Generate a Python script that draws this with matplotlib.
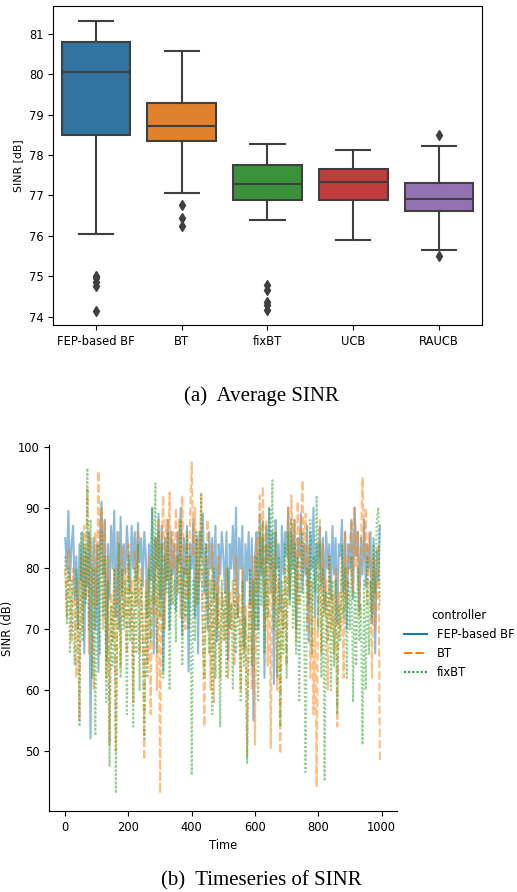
import matplotlib as mpl
mpl.use('Agg')
import matplotlib.pyplot as plt
from matplotlib.lines import Line2D
import numpy as np

mpl.rcParams['font.family'] = 'DejaVu Sans'

# ---- (a) box statistics ----
controllers = ['FEP-based BF', 'BT', 'fixBT', 'UCB', 'RAUCB']
box_colors = ['#3274a1', '#e1812c', '#3a923a', '#c03d3e', '#9372b2']
q1 = [78.50, 78.35, 76.88, 76.88, 76.61]
med = [80.05, 78.72, 77.28, 77.32, 76.92]
q3 = [80.80, 79.28, 77.76, 77.66, 77.30]
whis_lo = [76.05, 77.07, 76.39, 75.90, 75.64]
whis_hi = [81.33, 80.57, 78.28, 78.13, 78.23]
fliers = [
    [74.15, 74.75, 74.85, 74.95, 75.00],
    [76.25, 76.45, 76.75],
    [74.17, 74.29, 74.37, 74.66, 74.79],
    [],
    [75.49, 78.50],
]

# ---- (b) time series, values every 5 steps ----
time = list(range(0, 1000, 5))
sinr_fep = [
    85, 80, 89.5, 78, 84, 87, 75, 82, 70, 84,
    78, 86, 66, 83, 77, 86, 52, 80, 85, 70,
    84, 63, 86, 91, 79, 88, 65, 84, 75, 87,
    80, 89.5, 72, 86, 70, 88.5, 76, 84, 79, 87,
    82, 76, 87, 80, 86, 78, 87.5, 81, 85, 77,
    86, 82, 72, 84, 78, 90, 66, 85, 80, 89,
    75, 87, 63, 85, 78, 88, 70, 86, 79, 84,
    73, 86, 81, 90, 69, 85, 79, 87, 63, 84,
    80, 88, 72, 85, 66, 86, 82, 89, 76, 84,
    70, 86, 80, 85, 75, 87, 68, 84, 79, 86,
    82, 76, 86, 65, 84, 80, 87, 78, 90, 72,
    85, 80, 87, 67, 84, 78, 86, 74, 85, 55,
    82, 86, 70, 89, 79, 85, 62, 87, 81, 90,
    76, 86, 61, 88, 80, 84, 73, 87, 79, 86,
    82, 90, 75, 86, 80, 88, 70, 85, 82, 89,
    76, 84, 79, 87, 68, 86, 80, 90, 72, 84,
    81, 87, 77, 85, 73, 86, 80, 84, 75, 87,
    79, 85, 71, 84, 82, 88, 76, 86, 70, 84,
    80, 88, 75, 90, 82, 86, 73, 85, 79, 88,
    77, 84, 80, 86, 71, 85, 66, 83, 78, 87,
]
sinr_bt = [
    80, 72, 83, 76, 68, 80, 74, 62, 78, 55,
    82, 70, 87, 75, 93, 66, 85, 79, 60, 86,
    74, 96, 80, 90, 70, 88, 62, 82, 51, 76,
    68, 80, 50, 77, 86, 64, 84, 72, 80, 66,
    84, 70, 78, 58, 83, 74, 86, 66, 80, 72,
    48.5, 78, 64, 82, 56, 76, 72, 85, 60, 88,
    43, 84, 92, 70, 88, 78, 92.5, 74, 86, 80,
    90, 76, 88, 72, 92, 80, 70, 86, 75, 89,
    97.5, 82, 90, 74, 85, 78, 92, 68, 54, 80,
    88, 72, 60, 84, 58, 78, 70, 82, 62, 76,
    74, 68, 80, 62, 76, 70, 78, 64, 82, 72,
    76, 60, 80, 66, 74, 49, 72, 78, 60, 82,
    51, 85, 76, 92, 80, 93.5, 70, 88, 64, 84,
    50.5, 82, 74, 86, 60, 78, 49.5, 76, 70, 80,
    64, 90, 76, 92, 82, 88, 68, 91, 74, 86,
    94.5, 80, 89, 70, 84, 62, 78, 56, 72, 44,
    80, 88, 66, 84, 72, 78, 60, 82, 70, 76,
    66, 80, 54, 76, 70, 82, 62, 86, 74, 80,
    84, 88, 76, 90, 80, 86, 72, 84, 95, 82,
    90, 74, 86, 78, 62, 82, 70, 76, 84, 48,
]
sinr_fixbt = [
    82, 71, 80, 66, 78, 70, 64, 80, 72, 54,
    86, 68, 84, 74, 96.5, 70, 88, 62, 80, 52.5,
    76, 84, 66, 86, 72, 82, 58, 78, 47.5, 74,
    64, 80, 43, 76, 84, 62, 80, 70, 78, 56,
    82, 68, 76, 54, 80, 66, 84, 60, 78, 70,
    52, 76, 62, 80, 68, 90, 74, 94, 66, 86,
    72, 84, 62, 82, 76, 86, 60, 80, 74, 78,
    68, 82, 76, 88, 64, 80, 72, 86, 70, 82,
    46, 78, 68, 86, 74, 80, 92.5, 70, 62, 84,
    74, 66, 78, 56, 80, 62, 76, 70, 54, 78,
    68, 76, 62, 80, 70, 74, 60, 78, 66, 74,
    70, 58, 78, 64, 72, 48, 68, 80, 64, 78,
    70, 82, 58, 86, 74, 88, 66, 84, 72, 90,
    80, 94.5, 70, 86, 62, 82, 54, 78, 66, 84,
    62, 86, 74, 88, 70, 84, 66, 82, 58, 80,
    86, 72, 46.5, 80, 74, 88, 66, 82, 76, 92,
    70, 84, 62, 80, 45, 76, 68, 82, 60, 78,
    64, 78, 56, 74, 68, 84, 72, 80, 62, 78,
    70, 82, 58, 76, 64, 80, 68, 74, 51, 78,
    60, 82, 66, 78, 72, 84, 76, 88, 90, 74,
]
series_names = ['FEP-based BF', 'BT', 'fixBT']
series_colors = ['#1f77b4', '#ff7f0e', '#2ca02c']
series_dashes = [(None, None), (4, 1.5), (1, 1)]

fig = plt.figure(figsize=(5.17, 8.92), dpi=100)

# ── (a) boxplot ──
ax1 = fig.add_axes([0.1025, 0.6356, 0.8297, 0.3577])
stats = []
for i in range(len(controllers)):
    stats.append(dict(med=med[i], q1=q1[i], q3=q3[i],
                      whislo=whis_lo[i], whishi=whis_hi[i], fliers=fliers[i]))
edge = '#3f3f3f'
bp = ax1.bxp(stats, positions=range(len(controllers)), widths=0.8,
             patch_artist=True, capwidths=0.4,
             boxprops=dict(edgecolor=edge, linewidth=1.5),
             medianprops=dict(color=edge, linewidth=1.5),
             whiskerprops=dict(color=edge, linewidth=1.5),
             capprops=dict(color=edge, linewidth=1.5),
             flierprops=dict(marker='d', markerfacecolor=edge,
                             markeredgecolor=edge, markersize=5))
for patch, c in zip(bp['boxes'], box_colors):
    patch.set_facecolor(c)
ax1.set_xlim(-0.5, 4.5)
ax1.set_ylim(73.79, 81.69)
ax1.set_xticks(range(len(controllers)))
ax1.set_xticklabels(controllers)
ax1.tick_params(labelsize=8.3)
ax1.set_ylabel('SINR [dB]', fontsize=7.8)

fig.text(0.505, 1 - 396 / 892, '(a)  Average SINR', ha='center', va='center',
         family='Liberation Serif', fontsize=15)

# ── (b) timeseries ──
ax2 = fig.add_axes([0.0956, 0.0908, 0.6729, 0.4103])
handles = []
for vals, name, c, d in zip([sinr_fep, sinr_bt, sinr_fixbt], series_names,
                            series_colors, series_dashes):
    ln, = ax2.plot(time, vals, color=c, alpha=0.5, linewidth=1.5)
    if d[0] is not None:
        ln.set_dashes(d)
    h = Line2D([], [], color=c, linewidth=1.5, label=name)
    if d[0] is not None:
        h.set_dashes(d)
    handles.append(h)
ax2.set_xlim(-50, 1050)
ax2.set_ylim(40.1, 100.3)
ax2.set_xticks([0, 200, 400, 600, 800, 1000])
ax2.set_yticks([50, 60, 70, 80, 90, 100])
ax2.tick_params(labelsize=8.3)
ax2.set_xlabel('Time', fontsize=8.3)
ax2.set_ylabel('SINR (dB)', fontsize=8.3, labelpad=3)
ax2.spines['top'].set_visible(False)
ax2.spines['right'].set_visible(False)

fig.legend(handles=handles, title='controller', loc='center left',
           bbox_to_anchor=(0.762, 0.278), frameon=False, fontsize=8.3,
           title_fontsize=8.3)

fig.text(0.505, 1 - 881 / 892, '(b)  Timeseries of SINR', ha='center',
         va='center', family='Liberation Serif', fontsize=15)

fig.savefig('out.png', dpi=100)
